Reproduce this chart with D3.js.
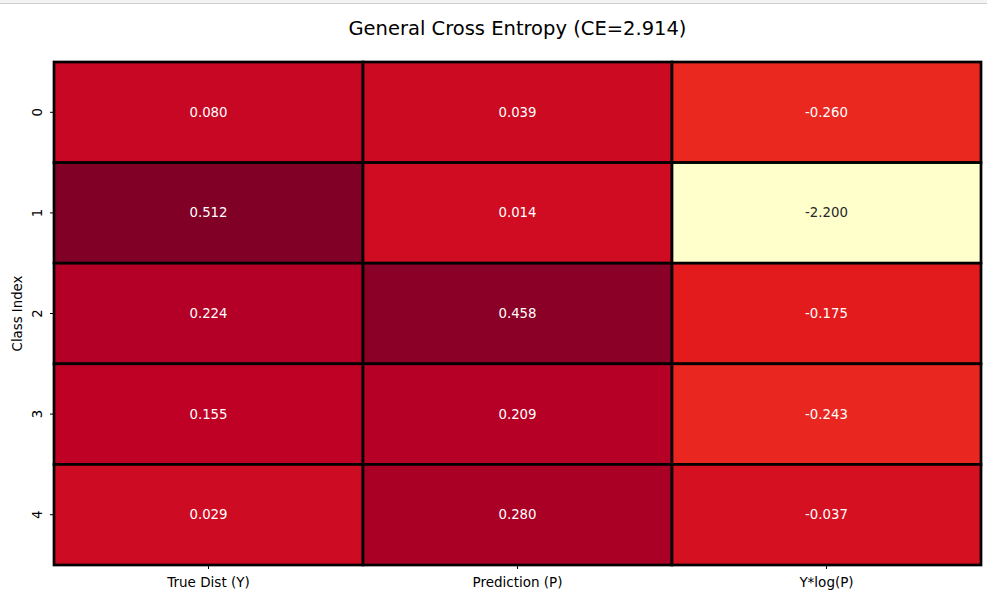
<!DOCTYPE html>
<html><head><meta charset="utf-8">
<script src="https://cdn.jsdelivr.net/npm/d3@7"></script>
<style>body{margin:0;background:#fff;} svg{display:block;font-family:"DejaVu Sans",sans-serif;}</style>
</head><body>
<script>
const columns = ["True Dist (Y)", "Prediction (P)", "Y*log(P)"];
const rowLabels = ["0", "1", "2", "3", "4"];
const trueDist = [0.080, 0.512, 0.224, 0.155, 0.029];
const prediction = [0.039, 0.014, 0.458, 0.209, 0.280];
const yLogP = [-0.260, -2.200, -0.175, -0.243, -0.037];
const titleText = "General Cross Entropy (CE=2.914)";
const yAxisLabel = "Class Index";

const W = 987, H = 598;
const margin = {left: 54, right: 6, top: 62, bottom: 33};
const svg = d3.select("body").append("svg").attr("width", W).attr("height", H);

// top browser-like strip
svg.append("rect").attr("x",0).attr("y",0).attr("width",W).attr("height",3).attr("fill","#f3f3f3");
svg.append("line").attr("x1",0).attr("x2",W).attr("y1",3.5).attr("y2",3.5).attr("stroke","#cfcfcf").attr("stroke-width",1);

const series = [trueDist, prediction, yLogP];
const cells = [];
series.forEach((s, ci) => s.forEach((v, ri) => cells.push({col: columns[ci], row: rowLabels[ri], v})));

const x = d3.scaleBand().domain(columns).range([margin.left, W - margin.right]);
const y = d3.scaleBand().domain(rowLabels).range([margin.top, H - margin.bottom]);

const allV = cells.map(d => d.v);
const vmin = d3.min(allV), vmax = d3.max(allV);
const stops = ["#ffffcc","#ffeda0","#fed976","#feb24c","#fd8d3c","#fc4e2a","#e31a1c","#bd0026","#800026"];
const color = d3.scaleLinear()
  .domain(stops.map((_, i) => vmin + (vmax - vmin) * i / (stops.length - 1)))
  .range(stops).interpolate(d3.interpolateRgb).clamp(true);

function lum(c) {
  const r = d3.rgb(c);
  const f = u => { u /= 255; return u <= 0.03928 ? u / 12.92 : Math.pow((u + 0.055) / 1.055, 2.4); };
  return 0.2126 * f(r.r) + 0.7152 * f(r.g) + 0.0722 * f(r.b);
}

const g = svg.append("g");
g.selectAll("rect.cell").data(cells).join("rect").attr("class","cell")
  .attr("x", d => x(d.col)).attr("y", d => y(d.row))
  .attr("width", x.bandwidth()).attr("height", y.bandwidth())
  .attr("fill", d => color(d.v))
  .attr("stroke", "#000").attr("stroke-width", 2.7);

g.selectAll("text.ann").data(cells).join("text").attr("class","ann")
  .attr("x", d => x(d.col) + x.bandwidth() / 2)
  .attr("y", d => y(d.row) + y.bandwidth() / 2)
  .attr("text-anchor","middle").attr("dominant-baseline","central")
  .attr("font-size", 13.3)
  .attr("fill", d => lum(color(d.v)) > 0.408 ? "#262626" : "#ffffff")
  .text(d => d.v.toFixed(3));

// axes
const xAxis = d3.axisBottom(x).tickSize(4).tickPadding(8);
const xg = svg.append("g").attr("transform", `translate(0,${H - margin.bottom})`).call(xAxis);
xg.select(".domain").remove();
xg.selectAll("text").attr("font-size", 13.5).attr("fill","#000").attr("font-family","DejaVu Sans");
xg.selectAll("line").attr("stroke","#000");

const yAxis = d3.axisLeft(y).tickSize(4).tickPadding(0);
const yg = svg.append("g").attr("transform", `translate(${margin.left},0)`).call(yAxis);
yg.select(".domain").remove();
yg.selectAll("line").attr("stroke","#000");
yg.selectAll("text").attr("font-size", 13.3).attr("fill","#000").attr("font-family","DejaVu Sans")
  .attr("text-anchor","middle").attr("dy", null).attr("dominant-baseline","central")
  .attr("x", 0).attr("transform", "translate(-17,0) rotate(-90)");

svg.append("text").attr("x", 17).attr("y", (margin.top + H - margin.bottom) / 2)
  .attr("transform", `rotate(-90,17,${(margin.top + H - margin.bottom) / 2})`)
  .attr("text-anchor","middle").attr("dominant-baseline","central")
  .attr("font-size", 13.3).attr("fill","#000").text(yAxisLabel);

svg.append("text").attr("x", (margin.left + W - margin.right) / 2).attr("y", 28)
  .attr("text-anchor","middle").attr("dominant-baseline","central")
  .attr("font-size", 19.5).attr("fill","#000").text(titleText);
</script>
</body></html>
